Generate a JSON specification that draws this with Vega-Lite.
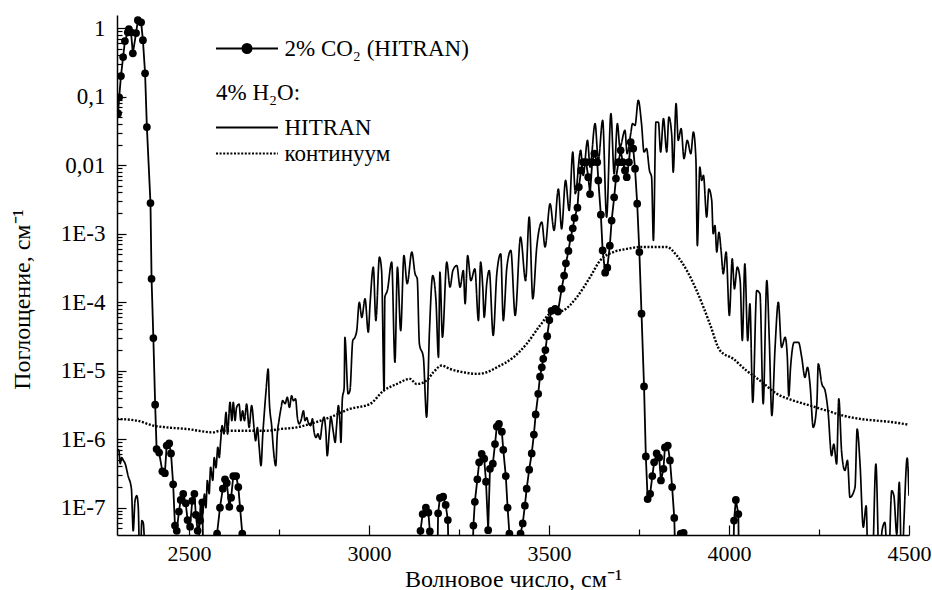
{
  "$schema": "https://vega.github.io/schema/vega-lite/v6.json",
  "width": 792,
  "height": 520,
  "autosize": {"type": "none"},
  "padding": {"left": 117, "top": 15, "right": 23, "bottom": 55},
  "background": "white",
  "config": {
    "view": {"stroke": null},
    "font": "Liberation Serif",
    "axis": {
      "grid": false,
      "domainColor": "black",
      "domainWidth": 1.5,
      "tickColor": "black",
      "tickWidth": 1.2,
      "labelColor": "black",
      "titleColor": "black",
      "labelFont": "Liberation Serif",
      "titleFont": "Liberation Serif",
      "labelFontSize": 22,
      "titleFontSize": 24,
      "titleFontWeight": "normal",
      "labelOverlap": false,
      "labelFlush": false
    },
    "legend": {
      "labelFont": "Liberation Serif",
      "titleFont": "Liberation Serif",
      "labelLimit": 400
    }
  },
  "datasets": {
    "co2": [
      {"wn":2303,"abs":0.057},{"wn":2306,"abs":0.098},{"wn":2311,"abs":0.20},{"wn":2317,"abs":0.38},{"wn":2322,"abs":0.65},{"wn":2330,"abs":0.87},{"wn":2333,"abs":0.97},{"wn":2339,"abs":0.87},{"wn":2344,"abs":0.43},{"wn":2353,"abs":0.85},{"wn":2358,"abs":1.31},{"wn":2367,"abs":1.22},{"wn":2372,"abs":0.67},{"wn":2378,"abs":0.22},{"wn":2383,"abs":0.036},{"wn":2393,"abs":0.0028},{"wn":2396,"abs":2.2e-4},{"wn":2401,"abs":3.0e-5},{"wn":2406,"abs":3.2e-6},
      {"wn":2410,"abs":7.2e-7},{"wn":2417,"abs":6.4e-7},{"wn":2426,"abs":3.4e-7},{"wn":2433,"abs":3.2e-7},{"wn":2438,"abs":8.1e-7},{"wn":2445,"abs":8.7e-7},{"wn":2450,"abs":6.2e-7},{"wn":2456,"abs":2.2e-7},{"wn":2461,"abs":5.5e-8},{"wn":2466,"abs":4.6e-8},{"wn":2472,"abs":8.8e-8},{"wn":2477,"abs":1.3e-7},{"wn":2484,"abs":1.6e-7},{"wn":2491,"abs":1.16e-7},{"wn":2496,"abs":6.6e-8},{"wn":2503,"abs":5.3e-8},{"wn":2509,"abs":1.26e-7},{"wn":2515,"abs":1.6e-7},{"wn":2519,"abs":7.9e-8},{"wn":2524,"abs":4.6e-8},{"wn":2531,"abs":6.5e-8},{"wn":2537,"abs":1.2e-7},{"wn":2544,"abs":1e-9},
      {"wn":2566,"abs":1e-9},{"wn":2578,"abs":4.2e-8},{"wn":2586,"abs":1.0e-7},{"wn":2594,"abs":1.9e-7},{"wn":2600,"abs":2.6e-7},{"wn":2605,"abs":2.3e-7},{"wn":2612,"abs":1.03e-7},{"wn":2617,"abs":1.4e-7},{"wn":2623,"abs":2.9e-7},{"wn":2631,"abs":2.9e-7},{"wn":2637,"abs":2.0e-7},{"wn":2642,"abs":9.8e-8},{"wn":2648,"abs":4.2e-8},{"wn":2656,"abs":1e-9},
      {"wn":3136,"abs":1e-9},{"wn":3143,"abs":4.6e-8},{"wn":3149,"abs":8.1e-8},{"wn":3158,"abs":1.0e-7},{"wn":3165,"abs":8.5e-8},{"wn":3169,"abs":4.5e-8},{"wn":3178,"abs":1e-9},{"wn":3186,"abs":1e-9},{"wn":3192,"abs":8.3e-8},{"wn":3197,"abs":1.39e-7},{"wn":3206,"abs":1.45e-7},{"wn":3213,"abs":1.1e-7},{"wn":3219,"abs":6.6e-8},{"wn":3226,"abs":1e-9},
      {"wn":3282,"abs":1e-9},{"wn":3290,"abs":5.5e-8},{"wn":3294,"abs":1.22e-7},{"wn":3301,"abs":2.6e-7},{"wn":3306,"abs":4.6e-7},{"wn":3313,"abs":6.1e-7},{"wn":3320,"abs":5.2e-7},{"wn":3325,"abs":2.4e-7},{"wn":3331,"abs":4.7e-8},{"wn":3336,"abs":3.7e-7},{"wn":3344,"abs":4.4e-7},{"wn":3350,"abs":8.5e-7},{"wn":3355,"abs":1.53e-6},{"wn":3361,"abs":1.67e-6},{"wn":3369,"abs":1.29e-6},{"wn":3373,"abs":7.0e-7},{"wn":3380,"abs":2.9e-7},{"wn":3385,"abs":1.0e-7},{"wn":3390,"abs":4.2e-8},{"wn":3400,"abs":1e-9},
      {"wn":3414,"abs":1e-9},{"wn":3421,"abs":4.2e-8},{"wn":3427,"abs":5.9e-8},{"wn":3433,"abs":1.07e-7},{"wn":3438,"abs":1.9e-7},{"wn":3445,"abs":3.6e-7},{"wn":3452,"abs":6.2e-7},{"wn":3458,"abs":1.17e-6},{"wn":3463,"abs":2.3e-6},{"wn":3470,"abs":4.6e-6},{"wn":3475,"abs":8.2e-6},{"wn":3480,"abs":1.12e-5},{"wn":3484,"abs":1.49e-5},{"wn":3490,"abs":2.0e-5},{"wn":3495,"abs":3.2e-5},{"wn":3501,"abs":5.5e-5},{"wn":3507,"abs":7.5e-5},{"wn":3517,"abs":8.0e-5},{"wn":3525,"abs":7.3e-5},{"wn":3535,"abs":1.57e-4},{"wn":3542,"abs":2.45e-4},{"wn":3547,"abs":3.7e-4},{"wn":3554,"abs":5.6e-4},{"wn":3560,"abs":8.7e-4},{"wn":3566,"abs":1.2e-3},{"wn":3571,"abs":1.7e-3},{"wn":3579,"abs":2.4e-3},{"wn":3583,"abs":4.8e-3},{"wn":3589,"abs":8.4e-3},{"wn":3595,"abs":0.0111},{"wn":3603,"abs":0.0111},{"wn":3609,"abs":0.0067},{"wn":3614,"abs":0.0038},{"wn":3620,"abs":0.0111},{"wn":3626,"abs":0.0148},{"wn":3634,"abs":0.0111},{"wn":3637,"abs":0.006},{"wn":3644,"abs":0.0019},{"wn":3649,"abs":5.7e-4},{"wn":3656,"abs":2.7e-4},{"wn":3662,"abs":3.2e-4},{"wn":3669,"abs":6.7e-4},{"wn":3674,"abs":1.56e-3},{"wn":3681,"abs":3.4e-3},{"wn":3686,"abs":6.4e-3},{"wn":3693,"abs":0.0111},{"wn":3699,"abs":0.0165},{"wn":3705,"abs":0.0111},{"wn":3711,"abs":0.0084},{"wn":3716,"abs":0.0067},{"wn":3722,"abs":0.0111},{"wn":3727,"abs":0.0218},{"wn":3734,"abs":0.0175},{"wn":3739,"abs":0.0089},{"wn":3745,"abs":0.00274},{"wn":3751,"abs":5.4e-4},{"wn":3757,"abs":6.8e-5},{"wn":3764,"abs":5.9e-6},{"wn":3769,"abs":5.6e-7},{"wn":3774,"abs":1.34e-7},{"wn":3781,"abs":1.6e-7},{"wn":3787,"abs":2.9e-7},{"wn":3792,"abs":4.6e-7},{"wn":3799,"abs":6.2e-7},{"wn":3806,"abs":5.4e-7},{"wn":3811,"abs":2.5e-7},{"wn":3818,"abs":3.7e-7},{"wn":3822,"abs":7.6e-7},{"wn":3830,"abs":8.1e-7},{"wn":3836,"abs":4.9e-7},{"wn":3842,"abs":2.0e-7},{"wn":3848,"abs":7.1e-8},{"wn":3857,"abs":1e-9},{"wn":3862,"abs":1e-9},{"wn":3866,"abs":4.2e-8},{"wn":3874,"abs":4.3e-8},{"wn":3880,"abs":1e-9},
      {"wn":4008,"abs":1e-9},{"wn":4014,"abs":6.5e-8},{"wn":4019,"abs":1.3e-7},{"wn":4026,"abs":8.1e-8},{"wn":4030,"abs":1e-9}
    ],
    "h2o": [
      {"wn":2300,"abs":6.8e-7},{"wn":2305,"abs":7.0e-7},{"wn":2309,"abs":4.4e-7},{"wn":2313,"abs":5.4e-7},{"wn":2318,"abs":4.9e-7},{"wn":2322,"abs":4.5e-7},{"wn":2331,"abs":2.9e-7},{"wn":2340,"abs":1.9e-7},{"wn":2345,"abs":4.6e-8},{"wn":2350,"abs":1.26e-7},{"wn":2355,"abs":1.5e-7},{"wn":2359,"abs":1.03e-7},{"wn":2364,"abs":1e-8},{"wn":2369,"abs":6.5e-8},{"wn":2373,"abs":6.0e-8},{"wn":2381,"abs":1e-8},{"wn":2522,"abs":1e-8},{"wn":2529,"abs":5.2e-8},{"wn":2533,"abs":1.26e-7},{"wn":2538,"abs":8.2e-8},{"wn":2543,"abs":1.58e-7},{"wn":2547,"abs":1.0e-7},{"wn":2551,"abs":2.5e-7},{"wn":2556,"abs":1.6e-7},{"wn":2560,"abs":3.9e-7},{"wn":2566,"abs":2.5e-7},{"wn":2570,"abs":5.4e-7},{"wn":2575,"abs":3.85e-7},{"wn":2580,"abs":7.6e-7},{"wn":2584,"abs":5.4e-7},{"wn":2588,"abs":9.5e-7},{"wn":2592,"abs":1.58e-6},{"wn":2597,"abs":1.2e-6},{"wn":2603,"abs":2.47e-6},{"wn":2607,"abs":1.19e-6},{"wn":2614,"abs":3.46e-6},{"wn":2619,"abs":1.87e-6},{"wn":2623,"abs":3.46e-6},{"wn":2628,"abs":1.87e-6},{"wn":2632,"abs":2.9e-6},{"wn":2639,"abs":3.27e-6},{"wn":2644,"abs":1.87e-6},{"wn":2649,"abs":2.6e-6},{"wn":2654,"abs":1.87e-6},{"wn":2660,"abs":3.27e-6},{"wn":2667,"abs":1.49e-6},{"wn":2674,"abs":3.1e-6},{"wn":2681,"abs":1.41e-6},{"wn":2685,"abs":9.5e-7},{"wn":2690,"abs":1.48e-6},{"wn":2695,"abs":7.6e-7},{"wn":2700,"abs":4.1e-7},{"wn":2705,"abs":1.19e-6},{"wn":2709,"abs":2.34e-6},{"wn":2714,"abs":5.1e-6},{"wn":2720,"abs":1.06e-5},{"wn":2723,"abs":3.7e-6},{"wn":2730,"abs":1.49e-6},{"wn":2734,"abs":7.6e-7},{"wn":2741,"abs":4.1e-7},{"wn":2745,"abs":1.13e-6},{"wn":2750,"abs":1.87e-6},{"wn":2756,"abs":2.92e-6},{"wn":2760,"abs":3.66e-6},{"wn":2767,"abs":3.3e-6},{"wn":2773,"abs":4.1e-6},{"wn":2779,"abs":2.92e-6},{"wn":2785,"abs":4.3e-6},{"wn":2790,"abs":3.66e-6},{"wn":2796,"abs":3.9e-6},{"wn":2801,"abs":2.1e-6},{"wn":2806,"abs":1.67e-6},{"wn":2811,"abs":1.87e-6},{"wn":2818,"abs":2.6e-6},{"wn":2822,"abs":1.87e-6},{"wn":2827,"abs":2.07e-6},{"wn":2831,"abs":1.77e-6},{"wn":2838,"abs":1.58e-6},{"wn":2843,"abs":1.98e-6},{"wn":2847,"abs":1.33e-6},{"wn":2853,"abs":1.06e-6},{"wn":2858,"abs":1.2e-6},{"wn":2864,"abs":1.0e-6},{"wn":2870,"abs":1.67e-6},{"wn":2875,"abs":2.1e-6},{"wn":2880,"abs":1.33e-6},{"wn":2884,"abs":5.75e-7},{"wn":2890,"abs":1.33e-6},{"wn":2894,"abs":2.1e-6},{"wn":2901,"abs":1.26e-6},{"wn":2906,"abs":9.0e-7},{"wn":2910,"abs":1.58e-6},{"wn":2915,"abs":3.1e-6},{"wn":2919,"abs":1.87e-6},{"wn":2922,"abs":9.0e-7},{"wn":2926,"abs":3.9e-6},{"wn":2931,"abs":5.7e-6},{"wn":2933,"abs":3.08e-5},{"wn":2942,"abs":4.6e-6},{"wn":2947,"abs":5.1e-6},{"wn":2955,"abs":2.76e-5},{"wn":2961,"abs":3.08e-5},{"wn":2966,"abs":3.86e-5},{"wn":2973,"abs":1.0e-4},{"wn":2980,"abs":6.0e-5},{"wn":2989,"abs":1.12e-4},{"wn":2998,"abs":3.65e-5},{"wn":3003,"abs":9.6e-5},{"wn":3012,"abs":3.25e-4},{"wn":3019,"abs":5.4e-5},{"wn":3029,"abs":4.55e-4},{"wn":3035,"abs":2.9e-4},{"wn":3042,"abs":5.1e-6},{"wn":3044,"abs":1.18e-4},{"wn":3051,"abs":1.48e-4},{"wn":3063,"abs":3.85e-4},{"wn":3072,"abs":1.33e-5},{"wn":3079,"abs":3.25e-4},{"wn":3088,"abs":3.86e-5},{"wn":3097,"abs":4.8e-4},{"wn":3106,"abs":1.86e-4},{"wn":3119,"abs":5.4e-4},{"wn":3128,"abs":2.6e-4},{"wn":3134,"abs":2.2e-4},{"wn":3140,"abs":2.47e-5},{"wn":3151,"abs":1.57e-5},{"wn":3160,"abs":2.1e-6},{"wn":3168,"abs":3.86e-5},{"wn":3177,"abs":2.45e-4},{"wn":3186,"abs":1.06e-4},{"wn":3193,"abs":1.57e-5},{"wn":3197,"abs":2.75e-4},{"wn":3204,"abs":3.08e-5},{"wn":3216,"abs":3.85e-4},{"wn":3225,"abs":1.66e-4},{"wn":3233,"abs":2.9e-4},{"wn":3244,"abs":3.44e-4},{"wn":3253,"abs":1.66e-4},{"wn":3262,"abs":2.9e-4},{"wn":3267,"abs":9.5e-5},{"wn":3274,"abs":4.8e-4},{"wn":3283,"abs":2.07e-4},{"wn":3294,"abs":3.08e-4},{"wn":3304,"abs":5.4e-5},{"wn":3310,"abs":3.85e-4},{"wn":3316,"abs":1.66e-4},{"wn":3320,"abs":6.0e-5},{"wn":3327,"abs":1.86e-4},{"wn":3334,"abs":2.9e-4},{"wn":3345,"abs":3.27e-5},{"wn":3355,"abs":2.6e-4},{"wn":3366,"abs":5.1e-4},{"wn":3373,"abs":5.4e-5},{"wn":3383,"abs":3.25e-4},{"wn":3394,"abs":5.7e-4},{"wn":3406,"abs":6.4e-5},{"wn":3421,"abs":8.9e-4},{"wn":3435,"abs":2.07e-4},{"wn":3445,"abs":1.75e-3},{"wn":3455,"abs":1.12e-4},{"wn":3466,"abs":6.4e-4},{"wn":3480,"abs":1.48e-3},{"wn":3489,"abs":6.4e-4},{"wn":3503,"abs":2.74e-3},{"wn":3514,"abs":1.12e-3},{"wn":3526,"abs":4.5e-3},{"wn":3535,"abs":1.18e-3},{"wn":3546,"abs":6.0e-3},{"wn":3556,"abs":2.19e-3},{"wn":3566,"abs":0.0156},{"wn":3573,"abs":3.84e-3},{"wn":3588,"abs":0.0165},{"wn":3595,"abs":7.1e-3},{"wn":3607,"abs":0.0231},{"wn":3614,"abs":9.4e-3},{"wn":3628,"abs":0.0405},{"wn":3637,"abs":0.0118},{"wn":3649,"abs":0.0453},{"wn":3660,"abs":1.75e-3},{"wn":3672,"abs":0.0566},{"wn":3681,"abs":7.5e-3},{"wn":3690,"abs":0.0405},{"wn":3697,"abs":0.0184},{"wn":3711,"abs":0.0323},{"wn":3717,"abs":0.0148},{"wn":3727,"abs":0.0289},{"wn":3732,"abs":0.0405},{"wn":3739,"abs":0.0382},{"wn":3748,"abs":0.0887},{"wn":3757,"abs":0.0405},{"wn":3764,"abs":0.0156},{"wn":3771,"abs":0.0175},{"wn":3779,"abs":8.4e-3},{"wn":3785,"abs":6.7e-3},{"wn":3790,"abs":8.0e-4},{"wn":3797,"abs":0.0428},{"wn":3804,"abs":0.0423},{"wn":3810,"abs":0.0156},{"wn":3818,"abs":0.0479},{"wn":3827,"abs":0.0156},{"wn":3833,"abs":0.0506},{"wn":3841,"abs":0.0273},{"wn":3845,"abs":7.9e-3},{"wn":3853,"abs":0.0794},{"wn":3859,"abs":0.0231},{"wn":3867,"abs":0.0342},{"wn":3875,"abs":0.0125},{"wn":3884,"abs":0.0231},{"wn":3894,"abs":0.0148},{"wn":3901,"abs":0.0305},{"wn":3908,"abs":0.0125},{"wn":3912,"abs":6.7e-4},{"wn":3919,"abs":9.4e-3},{"wn":3924,"abs":6.0e-3},{"wn":3929,"abs":7.1e-3},{"wn":3938,"abs":1.75e-3},{"wn":3944,"abs":4.5e-3},{"wn":3952,"abs":3.06e-3},{"wn":3956,"abs":1.0e-3},{"wn":3961,"abs":1.32e-3},{"wn":3966,"abs":5.4e-4},{"wn":3972,"abs":1.05e-3},{"wn":3978,"abs":5.7e-4},{"wn":3984,"abs":2.6e-4},{"wn":3992,"abs":5.4e-4},{"wn":4001,"abs":6.4e-5},{"wn":4009,"abs":4.3e-4},{"wn":4015,"abs":1.57e-4},{"wn":4023,"abs":3.25e-4},{"wn":4031,"abs":2.07e-4},{"wn":4037,"abs":2.76e-5},{"wn":4044,"abs":3.64e-4},{"wn":4052,"abs":2.76e-5},{"wn":4058,"abs":9.5e-5},{"wn":4066,"abs":3.46e-6},{"wn":4077,"abs":1.48e-4},{"wn":4086,"abs":1.33e-4},{"wn":4095,"abs":3.3e-6},{"wn":4105,"abs":2.07e-4},{"wn":4112,"abs":2.76e-5},{"wn":4119,"abs":2.21e-6},{"wn":4128,"abs":2.2e-5},{"wn":4137,"abs":1.0e-4},{"wn":4146,"abs":2.2e-5},{"wn":4156,"abs":3.08e-5},{"wn":4162,"abs":1.57e-5},{"wn":4166,"abs":4.3e-6},{"wn":4171,"abs":1.12e-5},{"wn":4181,"abs":2.6e-5},{"wn":4193,"abs":2.6e-5},{"wn":4202,"abs":1.57e-5},{"wn":4211,"abs":8.0e-6},{"wn":4218,"abs":1.12e-5},{"wn":4225,"abs":6.4e-6},{"wn":4234,"abs":1.49e-6},{"wn":4244,"abs":3.27e-6},{"wn":4248,"abs":1.26e-5},{"wn":4258,"abs":6.4e-6},{"wn":4267,"abs":5.1e-6},{"wn":4275,"abs":2.6e-6},{"wn":4285,"abs":5.75e-7},{"wn":4291,"abs":8.5e-7},{"wn":4299,"abs":4.35e-7},{"wn":4305,"abs":3.9e-6},{"wn":4313,"abs":6.4e-7},{"wn":4322,"abs":3.5e-7},{"wn":4329,"abs":4.9e-7},{"wn":4336,"abs":1.42e-7},{"wn":4350,"abs":1.98e-7},{"wn":4356,"abs":1.41e-6},{"wn":4364,"abs":4.35e-7},{"wn":4373,"abs":5.2e-8},{"wn":4381,"abs":1.07e-7},{"wn":4387,"abs":1e-8},{"wn":4397,"abs":1e-8},{"wn":4408,"abs":4.35e-7},{"wn":4418,"abs":1e-8},{"wn":4425,"abs":4.6e-8},{"wn":4433,"abs":6.1e-8},{"wn":4442,"abs":1e-8},{"wn":4452,"abs":1.77e-7},{"wn":4458,"abs":1.5e-7},{"wn":4466,"abs":4.1e-8},{"wn":4473,"abs":2.34e-7},{"wn":4480,"abs":1e-8},{"wn":4486,"abs":6.5e-8},{"wn":4495,"abs":5.3e-7},{"wn":4500,"abs":1.5e-7}
    ],
    "cont": [
      {"wn":2300,"abs":1.98e-6},{"wn":2355,"abs":1.87e-6},{"wn":2401,"abs":1.58e-6},{"wn":2438,"abs":1.49e-6},{"wn":2494,"abs":1.41e-6},{"wn":2567,"abs":1.26e-6},{"wn":2586,"abs":1.33e-6},{"wn":2623,"abs":1.33e-6},{"wn":2660,"abs":1.33e-6},{"wn":2716,"abs":1.33e-6},{"wn":2753,"abs":1.41e-6},{"wn":2799,"abs":1.49e-6},{"wn":2836,"abs":1.67e-6},{"wn":2892,"abs":2.09e-6},{"wn":2947,"abs":2.77e-6},{"wn":3003,"abs":3.28e-6},{"wn":3040,"abs":5.1e-6},{"wn":3077,"abs":6.4e-6},{"wn":3114,"abs":7.6e-6},{"wn":3132,"abs":6.4e-6},{"wn":3160,"abs":7.2e-6},{"wn":3179,"abs":9.5e-6},{"wn":3202,"abs":1.19e-5},{"wn":3225,"abs":1.06e-5},{"wn":3262,"abs":9.5e-6},{"wn":3299,"abs":9.0e-6},{"wn":3327,"abs":9.5e-6},{"wn":3355,"abs":1.12e-5},{"wn":3401,"abs":1.57e-5},{"wn":3438,"abs":2.47e-5},{"wn":3475,"abs":4.57e-5},{"wn":3503,"abs":6.8e-5},{"wn":3540,"abs":7.6e-5},{"wn":3577,"abs":1.18e-4},{"wn":3614,"abs":2.32e-4},{"wn":3642,"abs":4.07e-4},{"wn":3679,"abs":5.4e-4},{"wn":3716,"abs":6.0e-4},{"wn":3753,"abs":6.4e-4},{"wn":3790,"abs":6.4e-4},{"wn":3827,"abs":6.4e-4},{"wn":3855,"abs":4.8e-4},{"wn":3883,"abs":2.9e-4},{"wn":3910,"abs":1.48e-4},{"wn":3929,"abs":8.5e-5},{"wn":3947,"abs":4.8e-5},{"wn":3975,"abs":1.97e-5},{"wn":4012,"abs":1.49e-5},{"wn":4049,"abs":1.0e-5},{"wn":4086,"abs":7.2e-6},{"wn":4133,"abs":4.6e-6},{"wn":4179,"abs":3.67e-6},{"wn":4225,"abs":3.1e-6},{"wn":4271,"abs":2.62e-6},{"wn":4317,"abs":2.21e-6},{"wn":4364,"abs":1.98e-6},{"wn":4410,"abs":1.87e-6},{"wn":4456,"abs":1.77e-6},{"wn":4498,"abs":1.63e-6}
    ]
  },
  "encoding": {
    "x": {
      "field": "wn",
      "type": "quantitative",
      "scale": {"domain": [2300, 4500], "nice": false, "zero": false},
      "axis": {
        "values": [2500, 2750, 3000, 3250, 3500, 3750, 4000, 4250, 4500],
        "labelExpr": "datum.value % 500 == 0 ? format(datum.value, 'd') : ''",
        "tickSize": {"condition": {"test": "datum.value % 500 == 0", "value": -10}, "value": -6},
        "labelPadding": 18,
        "title": "Волновое число, см⁻¹",
        "titleY": 51,
        "titleBaseline": "alphabetic"
      }
    },
    "y": {
      "field": "abs",
      "type": "quantitative",
      "scale": {"type": "log", "domain": [4.0e-8, 1.56], "nice": false},
      "axis": {
        "values": [5e-8,6e-8,7e-8,8e-8,9e-8,1e-7,2e-7,3e-7,4e-7,5e-7,6e-7,7e-7,8e-7,9e-7,1e-6,2e-6,3e-6,4e-6,5e-6,6e-6,7e-6,8e-6,9e-6,1e-5,2e-5,3e-5,4e-5,5e-5,6e-5,7e-5,8e-5,9e-5,1e-4,2e-4,3e-4,4e-4,5e-4,6e-4,7e-4,8e-4,9e-4,1e-3,2e-3,3e-3,4e-3,5e-3,6e-3,7e-3,8e-3,9e-3,0.01,0.02,0.03,0.04,0.05,0.06,0.07,0.08,0.09,0.1,0.2,0.3,0.4,0.5,0.6,0.7,0.8,0.9,1],
        "labelExpr": "abs(log(datum.value)/LN10 - round(log(datum.value)/LN10)) < 0.001 ? (round(log(datum.value)/LN10) == 0 ? '1' : round(log(datum.value)/LN10) == -1 ? '0,1' : round(log(datum.value)/LN10) == -2 ? '0,01' : '1E' + round(log(datum.value)/LN10)) : ''",
        "tickSize": {"condition": {"test": "abs(log(datum.value)/LN10 - round(log(datum.value)/LN10)) < 0.001", "value": -9}, "value": -5},
        "labelPadding": 21,
        "labelFontSize": 23,
        "title": "Поглощение, см⁻¹",
        "titleX": -95,
        "titleY": 284,
        "titleAngle": 270,
        "titleAlign": "center",
        "titleBaseline": "middle"
      }
    }
  },
  "layer": [
    {
      "data": {"name": "cont"},
      "mark": {"type": "line", "color": "black", "strokeWidth": 2.4, "clip": true, "interpolate": "monotone"},
      "encoding": {
        "strokeDash": {
          "datum": "континуум",
          "type": "nominal",
          "scale": {"domain": ["HITRAN", "континуум"], "range": [[1, 0], [2, 1.6]]},
          "legend": {
            "orient": "none",
            "legendX": 99,
            "legendY": 67,
            "padding": 0,
            "title": "4% H₂O:",
            "titleFontSize": 23,
            "titleFontWeight": "normal",
            "titleColor": "black",
            "titlePadding": 11,
            "labelFontSize": 23,
            "labelColor": "black",
            "symbolType": "M-3.1,0H3.1",
            "symbolSize": 400,
            "symbolStrokeColor": "black",
            "symbolStrokeWidth": 2,
            "symbolOffset": 19.5,
            "labelOffset": 26,
            "rowPadding": 2
          }
        }
      }
    },
    {
      "data": {"name": "h2o"},
      "mark": {"type": "line", "color": "black", "strokeWidth": 1.7, "clip": true, "interpolate": "monotone"},
      "encoding": {
        "strokeDash": {"datum": "HITRAN", "type": "nominal"}
      }
    },
    {
      "data": {"name": "co2"},
      "mark": {"type": "line", "color": "black", "strokeWidth": 1.8, "clip": true},
      "encoding": {
        "color": {
          "datum": "2% CO₂ (HITRAN)",
          "type": "nominal",
          "scale": {"range": ["black"]},
          "legend": {
            "orient": "none",
            "legendX": 99,
            "legendY": 22,
            "padding": 0,
            "title": null,
            "labelFontSize": 23,
            "labelColor": "black",
            "symbolType": "M-3.1,0H3.1M0.45,0A0.45,0.45,0,1,1,-0.45,0A0.45,0.45,0,1,1,0.45,0Z",
            "symbolSize": 400,
            "symbolStrokeColor": "black",
            "symbolFillColor": "black",
            "symbolStrokeWidth": 2,
            "symbolOffset": 19.5,
            "labelOffset": 26
          }
        }
      }
    },
    {
      "data": {"name": "co2"},
      "transform": [{"filter": "datum.abs > 3.9e-8"}],
      "mark": {"type": "point", "filled": true, "size": 60, "color": "black", "opacity": 1, "clip": true}
    }
  ]
}
